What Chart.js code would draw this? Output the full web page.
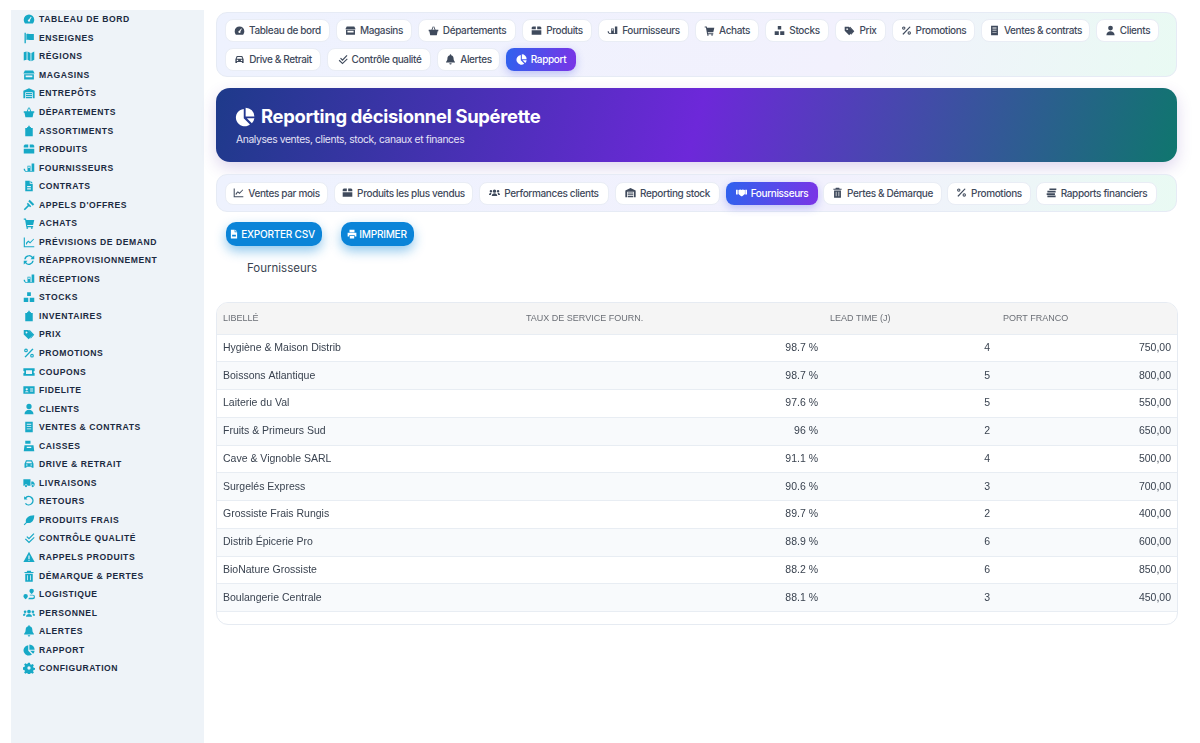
<!DOCTYPE html>
<html lang="fr">
<head>
<meta charset="utf-8">
<title>Reporting décisionnel Supérette</title>
<script src="https://cdn.jsdelivr.net/npm/chart.js@4/dist/chart.umd.min.js"></script>
<style>
* { box-sizing: border-box; }
html, body { margin: 0; width: 1200px; height: 743px; overflow: hidden; background: #fff; font-family: Inter, sans-serif; }
svg { display: block; flex: none; fill: currentColor; }
#sidebar { position: absolute; left: 11px; top: 10px; width: 193px; height: 733px; background: #eef3f8; }
.side-item { position: absolute; left: 12px; display: flex; align-items: center; height: 14px; color: #1b2a41; font: bold 8.6px "Liberation Sans", sans-serif; letter-spacing: .55px; white-space: nowrap; }
.side-item svg { width: 12px; height: 12px; color: #17a9c6; margin-right: 4px; }
.bar { position: absolute; left: 216px; width: 961px; border: 1px solid #e6ebf5; background: linear-gradient(100deg, #eef2fe 0%, #f2f1fd 65%, #e9faf3 100%); }
#nav1 { top: 12px; height: 65px; border-radius: 11px; }
#nav2 { top: 174px; height: 38px; border-radius: 11px; }
.chip { position: absolute; height: 23px; padding-bottom: 1px; display: flex; align-items: center; justify-content: center; gap: 4px; background: #fff; border: 1px solid #e9edf5; border-radius: 8px; color: #3f4a5c; font-size: 10px; font-weight: 500; letter-spacing: -.36px; white-space: nowrap; }
.chip svg { width: 11px; height: 11px; }
.chip.active { background: linear-gradient(100deg, #2f62ee, #7a34e6); border: 0; color: #fff; box-shadow: 0 3px 8px rgba(70, 80, 230, .3); }
#banner { position: absolute; left: 216px; top: 88px; width: 961px; height: 74px; border-radius: 14px; background: linear-gradient(105deg, #1e3a8a 0%, #6d28d9 50%, #0f766e 100%); box-shadow: 0 6px 16px rgba(90, 50, 170, .2); color: #fff; }
#banner svg { position: absolute; left: 19px; top: 19px; width: 20px; height: 20px; }
#banner h1 { position: absolute; left: 45px; top: 15px; margin: 0; font-size: 18.4px; font-weight: 700; letter-spacing: -.29px; line-height: 26px; white-space: nowrap; }
#banner p { position: absolute; left: 20px; top: 44px; margin: 0; font-size: 10.3px; letter-spacing: -.37px; line-height: 14px; color: #e4e2f6; white-space: nowrap; }
.btn { position: absolute; top: 222px; height: 24px; display: flex; align-items: center; justify-content: center; gap: 2px; background: #0a84d8; border-radius: 10px; box-shadow: 0 5px 12px rgba(10, 132, 216, .45); color: #fff; font-size: 10.1px; font-weight: 500; letter-spacing: -.28px; }
.btn svg { width: 10px; height: 10px; }
#table-title { position: absolute; left: 247px; top: 260px; font-size: 11.5px; line-height: 16px; color: #3a4350; }
#table-box { position: absolute; left: 216px; top: 302px; width: 962px; height: 323px; border: 1px solid #e6ebf2; border-radius: 12px; overflow: hidden; background: #fff; }
#tableChart { display: block; }
</style>
</head>
<body>
<div id="sidebar"></div>
<div class="bar" id="nav1"></div>
<div id="banner">
  <svg viewBox="0 0 16 16"><path d="M7 1.500V9l5 5A7 7 0 1 1 7 1.500zM8.500 0.500A7 7 0 0 1 15.500 7.500H8.500zM9.500 9H15.500A7 7 0 0 1 13.500 13z"/></svg>
  <h1>Reporting décisionnel Supérette</h1>
  <p>Analyses ventes, clients, stock, canaux et finances</p>
</div>
<div class="bar" id="nav2"></div>
<div id="buttons"></div>
<div id="table-title">Fournisseurs</div>
<div id="table-box"><canvas id="tableChart" width="960" height="321"></canvas></div>

<script>
const suppliers = ['Hygiène & Maison Distrib', 'Boissons Atlantique', 'Laiterie du Val', 'Fruits & Primeurs Sud', 'Cave & Vignoble SARL', 'Surgelés Express', 'Grossiste Frais Rungis', 'Distrib Épicerie Pro', 'BioNature Grossiste', 'Boulangerie Centrale'];
const serviceRates = [98.7, 98.7, 97.6, 96, 91.1, 90.6, 89.7, 88.9, 88.2, 88.1];
const leadTimes = [4, 5, 5, 2, 4, 3, 2, 6, 6, 3];
const francoValues = [750, 800, 550, 650, 500, 700, 400, 600, 850, 450];
const columnLabels = ['LIBELLÉ', 'TAUX DE SERVICE FOURN.', 'LEAD TIME (J)', 'PORT FRANCO'];

const sideItems = [['TABLEAU DE BORD', 'gauge'], ['ENSEIGNES', 'flag'], ['RÉGIONS', 'map'], ['MAGASINS', 'store'], ['ENTREPÔTS', 'warehouse'], ['DÉPARTEMENTS', 'basket'], ['ASSORTIMENTS', 'clip'], ['PRODUITS', 'box'], ['FOURNISSEURS', 'dolly'], ['CONTRATS', 'file'], ["APPELS D'OFFRES", 'gavel'], ['ACHATS', 'cart'], ['PRÉVISIONS DE DEMAND', 'chart'], ['RÉAPPROVISIONNEMENT', 'sync'], ['RÉCEPTIONS', 'dolly'], ['STOCKS', 'stack'], ['INVENTAIRES', 'clip'], ['PRIX', 'tags'], ['PROMOTIONS', 'percent'], ['COUPONS', 'ticket'], ['FIDELITE', 'idcard'], ['CLIENTS', 'user'], ['VENTES & CONTRATS', 'book'], ['CAISSES', 'cash'], ['DRIVE & RETRAIT', 'car'], ['LIVRAISONS', 'truck'], ['RETOURS', 'undo'], ['PRODUITS FRAIS', 'leaf'], ['CONTRÔLE QUALITÉ', 'check'], ['RAPPELS PRODUITS', 'warn'], ['DÉMARQUE & PERTES', 'trash'], ['LOGISTIQUE', 'route'], ['PERSONNEL', 'users'], ['ALERTES', 'bell'], ['RAPPORT', 'pie'], ['CONFIGURATION', 'gear']];
const navRow1 = [['Tableau de bord', 'gauge', 225, 105], ['Magasins', 'store', 336, 76], ['Départements', 'basket', 418, 98], ['Produits', 'box', 522, 70], ['Fournisseurs', 'dolly', 598, 91], ['Achats', 'cart', 695, 64], ['Stocks', 'stack', 765, 64], ['Prix', 'tags', 835, 51], ['Promotions', 'percent', 892, 83], ['Ventes & contrats', 'book', 981, 109], ['Clients', 'user', 1096, 63]];
const navRow2 = [['Drive & Retrait', 'car', 225, 96], ['Contrôle qualité', 'check', 327, 104], ['Alertes', 'bell', 437, 63], ['Rapport', 'pie', 506, 70, true]];
const navReports = [['Ventes par mois', 'chart', 225, 103], ['Produits les plus vendus', 'box', 334, 139], ['Performances clients', 'users', 479, 130], ['Reporting stock', 'warehouse', 615, 105], ['Fournisseurs', 'hands', 726, 92, true], ['Pertes & Démarque', 'trash', 823, 119], ['Promotions', 'percent', 947, 84], ['Rapports financiers', 'coins', 1036, 121]];

const icons = {
    gauge: 'M8 2a7 7 0 0 0-7 7c0 2 .7 3.500 1.800 5h10.400C14.300 12.500 15 11 15 9a7 7 0 0 0-7-7zm0 9.500a1.500 1.500 0 0 1-.2-3L10.500 5l.9.600L9.300 9.300A1.500 1.500 0 0 1 8 11.500z',
    flag: 'M2 1h1.800v14H2zM4.500 2.500c3-1 5.500 1 10 0v8c-4.500 1-7-1-10 0z',
    map: 'M1 3l3.800-1v11L1 14zM6 2l4 2v11l-4-2zM11.200 4L15 2v11l-3.800 2z',
    store: 'M2.500 2h11L15.500 6H.5zM1.500 7h13v7h-13zM3.500 8.500V11h9V8.500z',
    warehouse: 'M8 1.500L15.500 5v10h-2.500V7H3v8H.5V5zM4 8h8v1.500H4zM4 10.500h8V12H4zM4 13h8v2H4z',
    basket: 'M5 7l2-5 1 .4L6.400 7h3.200L8 2.400 9 2l2 5h4v2h-1l-1.200 6H3.200L2 9H1V7z',
    clip: 'M5.500 2.500h1.500V1h2v1.500h1.500V4h2.500v11H3V4h2.500z',
    box: 'M2.500 2H7v4H1V3.500zM9 2h4.500L15 3.500V6H9zM1 7.500h14V14H1z',
    dolly: 'M1 9h1.500l1 3H6V5h4v7h1.500V2H15v11H3L1 10.500zM7 6v2h2V6z',
    file: 'M3 1h6v4h4v10H3zM10 1l3 3h-3zM5.500 8h5v1.500h-5zM5.500 11h5v1.500h-5z',
    gavel: 'M9 1l6 6-2 2-6-6zM6.500 5L11 9.500l-1.500 1.500L8 9.500l-5.500 5.500L1 13.500 6.500 8 5 6.500z',
    cart: 'M1 2h3l.4 2H15l-1.500 6.500H5.500l.3 1.500H13.500v1.500H4.500L2.800 3.500H1zM4.500 14.500a1.200 1.200 0 1 0 2.400 0 1.200 1.200 0 0 0-2.400 0zM10.500 14.500a1.200 1.200 0 1 0 2.400 0 1.200 1.200 0 0 0-2.400 0z',
    chart: 'M1 2h1.500v11.500H15V15H1zM4 9l3-3 2.500 2L14 3.500l.8.800L9.500 10 7 8l-2.500 3.500H4z',
    sync: 'M8 1.500a6.500 6.500 0 0 1 5 2.300L15 2v5h-5l1.800-1.900A4.500 4.500 0 0 0 3.600 7H1.600A6.500 6.500 0 0 1 8 1.500zM1 9h5l-1.800 1.900A4.500 4.500 0 0 0 12.400 9h2A6.500 6.500 0 0 1 3 12.200L1 14z',
    stack: 'M5.500 1.500h5v5h-5zM1 9h6v5.500H1zM9 9h6v5.500H9z',
    tags: 'M1 2.500h6l6.500 6.500-6 6L1 8.500zM3.500 6a1.200 1.200 0 1 0 0-.01zM9 2.500l6 6.500-4.500 5-.8-.8L13.500 9 8 3.300z',
    percent: 'M12.500 2L14 3 3.500 14 2 13zM4 2a2.500 2.500 0 1 1 0 5 2.500 2.500 0 0 1 0-5zm0 1.500a1 1 0 1 0 0 2 1 1 0 0 0 0-2zM12 9a2.500 2.500 0 1 1 0 5 2.500 2.500 0 0 1 0-5zm0 1.500a1 1 0 1 0 0 2 1 1 0 0 0 0-2z',
    ticket: 'M.5 3h15v3.500a1.500 1.500 0 0 0 0 3V13H.5V9.500a1.500 1.500 0 0 0 0-3zM4 5.500v5h8v-5z',
    idcard: 'M.5 3h15v10H.5zM5 5.500a1.500 1.500 0 1 0 0 3 1.500 1.500 0 0 0 0-3zM2.500 11h5c0-2-5-2-5 0zM9.500 6h4v1.200h-4zM9.500 8.800h4V10h-4z',
    user: 'M8 1a3.500 3.500 0 1 1 0 7 3.500 3.500 0 0 1 0-7zM2 15c0-8 12-8 12 0z',
    book: 'M3 1h10v14H3zM5 3.500v1.500h6V3.500zM5 7v1h6V7zM5 10v1h6v-1z',
    cash: 'M3 1h7v4H3zM2 7h12l1 8H1zM5 9v1.500h6V9z',
    car: 'M4 3h8l2 4.500V13h-2.500v-1.500h-7V13H2V7.500zM5 4.500L4 7h8l-1-2.500zM4 8.500v1.500h2V8.500zM10 8.500v1.500h2V8.500z',
    truck: 'M.5 3h9.500v8.500H6a2 2 0 0 0-4 0H.5zM11 6h2.500l2 2.500v3H15a2 2 0 0 0-4 0zM4 10.500a1.500 1.500 0 1 1 0 3 1.500 1.500 0 0 1 0-3zM13 10.500a1.500 1.500 0 1 1 0 3 1.500 1.500 0 0 1 0-3z',
    undo: 'M1.500 1.500L3 3a6.500 6.500 0 1 1-.5 8.500l1.500-1a4.600 4.600 0 1 0 .4-6.100L6 6H1.500z',
    leaf: 'M15 1.500C15 9 11 13 5 12l-3 3-1-1 3-3C2.500 6 7 1.500 15 1.500z',
    check: 'M14 1.500l1.200 1L8 10 4.500 6.700l1.200-1.200L8 7.700zM14.500 6.500l1 1L8 15 2.500 9.700l1.200-1.200L8 12.700z',
    warn: 'M8 1l7.500 13.500H.5zM7.200 6v4.500h1.600V6zM7.200 11.500v1.500h1.600v-1.500z',
    trash: 'M5.500 1h5l.5 1.500h3V4H2V2.500h3zM3 5h10v10.500H3zM5.500 7v6.500h1V7zM9.500 7v6.500h1V7z',
    route: 'M11.500 1a3 3 0 0 1 3 3c0 1.500-3 4-3 4s-3-2.500-3-4a3 3 0 0 1 3-3zM3.500 8a3 3 0 0 1 3 3c0 1.500-3 4-3 4s-3-2.500-3-4a3 3 0 0 1 3-3zM8 13h5a1.500 1.500 0 0 0 0-3H9V9h4a2.500 2.500 0 0 1 0 6H7z',
    users: 'M8 3.500a2.500 2.500 0 1 1 0 5 2.500 2.500 0 0 1 0-5zM4 13c0-5 8-5 8 0zM2.800 4.500a1.800 1.800 0 1 1 0 3.600 1.800 1.800 0 0 1 0-3.600zM13.200 4.500a1.800 1.800 0 1 1 0 3.600 1.800 1.800 0 0 1 0-3.600zM0 11.500c0-2.500 2-3 3.500-2.500L2.500 11.500zM16 11.500c0-2.500-2-3-3.500-2.500l1 2.500z',
    bell: 'M8 0.500a1 1 0 0 1 1 1.200c2.500.5 3.500 2.500 3.500 5 0 2.500 1 3.800 2 4.800v1H1.500v-1c1-1 2-2.300 2-4.800s1-4.500 3.500-5A1 1 0 0 1 8 0.500zM6.300 13.500h3.400a1.700 1.700 0 0 1-3.400 0z',
    pie: 'M7 1.500V9l5 5A7 7 0 1 1 7 1.500zM8.500 0.500A7 7 0 0 1 15.500 7.500H8.500zM9.500 9H15.500A7 7 0 0 1 13.500 13z',
    gear: 'M6.800 1h2.400l.4 2 1.500.7 1.700-1.100 1.700 1.700-1.100 1.700.7 1.500 2 .4v2.400l-2 .4-.7 1.500 1.100 1.700-1.700 1.700-1.700-1.100-1.500.7-.4 2H6.800l-.4-2-1.500-.7-1.700 1.100-1.700-1.700 1.100-1.700-.7-1.500-2-.4V6.900l2-.4.7-1.500-1.100-1.700 1.700-1.700 1.700 1.100 1.500-.7zM8 5.800a2.200 2.200 0 1 0 0 4.400 2.200 2.200 0 0 0 0-4.400z',
    hands: 'M0 4h2.500v7H0zM13.500 4H16v7h-2.500zM3.500 4.500l3-1 1.500 1 1.500-1 3.500 1v5.500L9 13.500H7.500L3.500 10z',
    coins: 'M5 2h10v2.500H5zM2 5.500h12V8H2zM1 9h12v2.500H1zM2 12.500h12V15H2z',
    csv: 'M3 1h6v4h4v10H3zM10 1l3 3h-3zM5 9h6v3H5z',
    print: 'M4 1h8v4H4zM1 6h14v6h-2.500v-2h-9v2H1zM4.500 11h7v4h-7z'
};

function icon(name) {
    return `<svg viewBox="0 0 16 16"><path fill-rule="evenodd" d="${icons[name]}"/></svg>`;
}

const sidebar = document.getElementById('sidebar');
sideItems.forEach((item, i) => {
    const div = document.createElement('div');
    div.className = 'side-item';
    div.style.top = (2.3 + i * 18.54) + 'px';
    div.innerHTML = icon(item[1]) + '<span></span>';
    div.querySelector('span').textContent = item[0];
    sidebar.appendChild(div);
});

function addChips(parentId, items, top) {
    const parent = document.getElementById(parentId);
    const box = parent.getBoundingClientRect();
    items.forEach(item => {
        const chip = document.createElement('div');
        chip.className = 'chip' + (item[4] ? ' active' : '');
        chip.style.left = (item[2] - box.left - 1) + 'px';
        chip.style.top = (top - box.top - 1) + 'px';
        chip.style.width = item[3] + 'px';
        chip.innerHTML = icon(item[1]) + '<span></span>';
        chip.querySelector('span').textContent = item[0];
        parent.appendChild(chip);
    });
}
addChips('nav1', navRow1, 19);
addChips('nav1', navRow2, 48);
addChips('nav2', navReports, 181.5);

const buttons = document.getElementById('buttons');
[['EXPORTER CSV', 'csv', 226, 96, 4], ['IMPRIMER', 'print', 340.5, 73, 0]].forEach(b => {
    const el = document.createElement('div');
    el.className = 'btn';
    el.style.left = b[2] + 'px';
    el.style.width = b[3] + 'px';
    el.style.paddingRight = b[4] + 'px';
    el.innerHTML = icon(b[1]) + '<span>' + b[0] + '</span>';
    buttons.appendChild(el);
});

// colonnes du tableau : début du libellé et bord droit des valeurs, en pixels du canvas
const columnStarts = [6, 309, 613, 786];
const columnEnds = [303, 601, 773, 954];

const tablePlugin = {
    id: 'tablePlugin',
    beforeDraw(chart) {
        const { ctx, chartArea, scales } = chart;
        const rowHeight = scales.y.getPixelForValue(1) - scales.y.getPixelForValue(0);
        ctx.save();
        ctx.fillStyle = '#f5f5f5';
        ctx.fillRect(0, 0, chart.width, chartArea.top);
        ctx.fillStyle = '#f8fafc';
        suppliers.forEach((s, i) => {
            if (i % 2 === 1) {
                ctx.fillRect(0, scales.y.getPixelForValue(i) - rowHeight / 2, chart.width, rowHeight);
            }
        });
        ctx.restore();
    },
    afterDatasetsDraw(chart) {
        const { ctx } = chart;
        ctx.save();
        ctx.font = '10.5px "Liberation Sans"';
        ctx.fillStyle = '#3a4350';
        ctx.textAlign = 'right';
        ctx.textBaseline = 'middle';
        chart.data.datasets.forEach((ds, d) => {
            chart.getDatasetMeta(d).data.forEach((pt, i) => {
                ctx.fillText(ds.format(ds.values[i]), pt.x, pt.y);
            });
        });
        ctx.restore();
    }
};

function columnDataset(label, values, col, format) {
    return {
        label,
        values,
        format,
        data: values.map((v, i) => ({ x: columnEnds[col], y: suppliers[i] })),
        pointRadius: 0
    };
}

new Chart(document.getElementById('tableChart'), {
    type: 'scatter',
    data: {
        datasets: [
            columnDataset('Taux de service fourn.', serviceRates, 1, v => v + ' %'),
            columnDataset('Lead time (j)', leadTimes, 2, v => String(v)),
            columnDataset('Port franco', francoValues, 3, v => v.toFixed(2).replace('.', ','))
        ]
    },
    options: {
        responsive: false,
        animation: false,
        events: [],
        layout: { padding: { bottom: 12.5 } },
        plugins: { legend: { display: false }, tooltip: { enabled: false } },
        scales: {
            x: {
                type: 'linear',
                position: 'top',
                min: 0,
                max: 960,
                afterBuildTicks: scale => { scale.ticks = columnStarts.map(value => ({ value })); },
                afterFit: scale => {
                    scale.height = 31;
                    scale.paddingLeft = 0;
                    scale.paddingRight = 0;
                },
                grid: { display: false, drawTicks: false },
                border: { display: false },
                ticks: {
                    autoSkip: false,
                    maxRotation: 0,
                    align: 'start',
                    padding: 10,
                    color: '#6b6f76',
                    font: { family: 'Liberation Sans', size: 9 },
                    callback: (value, i) => columnLabels[i]
                }
            },
            y: {
                type: 'category',
                labels: suppliers,
                offset: true,
                afterFit: scale => { scale.width = 0; },
                grid: { offset: true, color: '#e8edf3', drawTicks: false },
                border: { display: false },
                ticks: {
                    mirror: true,
                    padding: 6,
                    color: '#3a4350',
                    font: { family: 'Liberation Sans', size: 10.5 }
                }
            }
        }
    },
    plugins: [tablePlugin]
});
</script>
</body>
</html>
